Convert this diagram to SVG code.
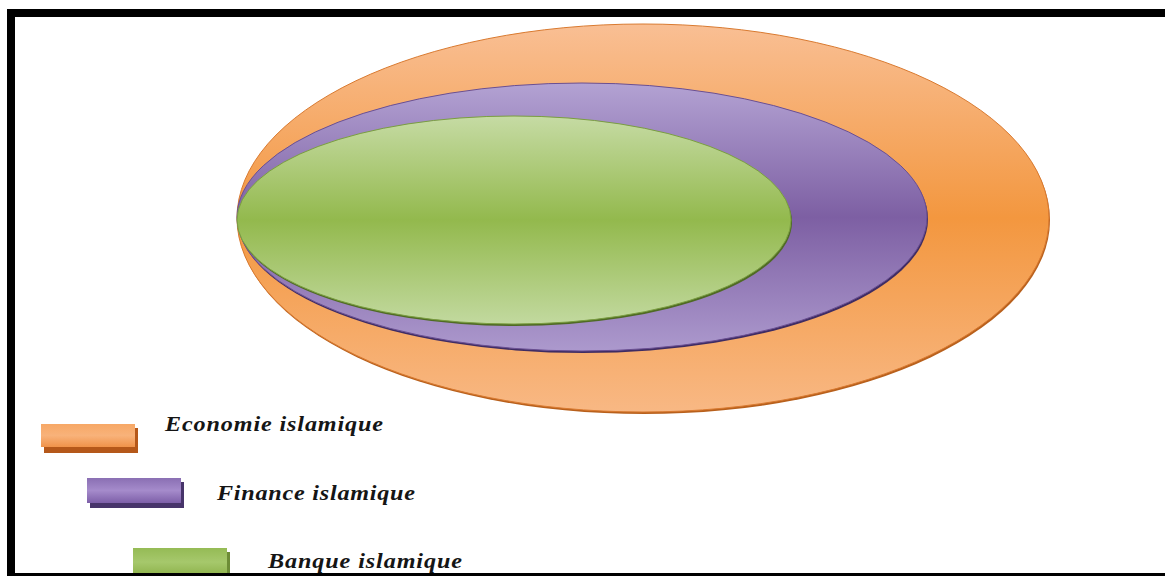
<svg xmlns="http://www.w3.org/2000/svg" width="1165" height="576" viewBox="0 0 1165 576">
  <style>
    .lbl { font-family: "Liberation Serif", "Times New Roman", serif; font-style: italic; font-weight: bold; font-size: 21px; fill: #151515; }
  </style>
  <defs>
    <linearGradient id="gOrange" x1="0" y1="0" x2="0" y2="1">
      <stop offset="0" stop-color="#f9bf94"/>
      <stop offset="0.5" stop-color="#f3973f"/>
      <stop offset="1" stop-color="#f8b884"/>
    </linearGradient>
    <linearGradient id="gPurple" x1="0" y1="0" x2="0" y2="1">
      <stop offset="0" stop-color="#b3a2d3"/>
      <stop offset="0.5" stop-color="#7d5fa3"/>
      <stop offset="1" stop-color="#ac99cd"/>
    </linearGradient>
    <linearGradient id="gGreen" x1="0" y1="0" x2="0" y2="1">
      <stop offset="0" stop-color="#c6dba4"/>
      <stop offset="0.5" stop-color="#93b94d"/>
      <stop offset="1" stop-color="#c2d99f"/>
    </linearGradient>
    <linearGradient id="lOrange" x1="0" y1="0" x2="0" y2="1">
      <stop offset="0" stop-color="#f7a866"/>
      <stop offset="0.5" stop-color="#f8b27a"/>
      <stop offset="1" stop-color="#f0934a"/>
    </linearGradient>
    <linearGradient id="lPurple" x1="0" y1="0" x2="0" y2="1">
      <stop offset="0" stop-color="#8a6fb3"/>
      <stop offset="0.5" stop-color="#a58bcb"/>
      <stop offset="1" stop-color="#7d5fa8"/>
    </linearGradient>
    <linearGradient id="lGreen" x1="0" y1="0" x2="0" y2="1">
      <stop offset="0" stop-color="#95bb55"/>
      <stop offset="0.5" stop-color="#a6c86c"/>
      <stop offset="1" stop-color="#8db24a"/>
    </linearGradient>
  </defs>

  <rect x="0" y="0" width="1165" height="576" fill="#ffffff"/>

  <g id="economie">
    <ellipse cx="644" cy="220" rx="406" ry="194" fill="#b8601c"/>
    <ellipse cx="643" cy="218" rx="406" ry="194" fill="url(#gOrange)" stroke="#d97a30" stroke-width="1"/>
  </g>
  <g id="finance">
    <ellipse cx="583" cy="219" rx="345" ry="134" fill="#3f2c63"/>
    <ellipse cx="582" cy="217" rx="345" ry="134" fill="url(#gPurple)" stroke="#6a4f92" stroke-width="1"/>
  </g>
  <g id="banque">
    <ellipse cx="515" cy="222" rx="277" ry="104" fill="#4f6a24"/>
    <ellipse cx="514" cy="220" rx="277" ry="104" fill="url(#gGreen)" stroke="#7a9e40" stroke-width="1"/>
  </g>

  <g id="legend-economie">
    <rect x="44" y="428" width="94" height="25" fill="#b5581a"/>
    <rect x="41" y="424" width="94" height="23" fill="url(#lOrange)"/>
    <text class="lbl" transform="translate(165,431) scale(1.15,1)" x="0" y="0" textLength="189.6" lengthAdjust="spacing">Economie islamique</text>
  </g>
  <g id="legend-finance">
    <rect x="90" y="482" width="94" height="26" fill="#47346a"/>
    <rect x="87" y="478" width="94" height="25" fill="url(#lPurple)"/>
    <text class="lbl" transform="translate(217,500) scale(1.15,1)" x="0" y="0" textLength="172.2" lengthAdjust="spacing">Finance islamique</text>
  </g>
  <g id="legend-banque">
    <rect x="136" y="552" width="94" height="24" fill="#6d8c36"/>
    <rect x="133" y="548" width="94" height="28" fill="url(#lGreen)"/>
    <text class="lbl" transform="translate(268,568) scale(1.15,1)" x="0" y="0" textLength="168.7" lengthAdjust="spacing">Banque islamique</text>
  </g>

  <g id="frame" fill="#000">
    <rect x="7" y="9" width="1158" height="8"/>
    <rect x="7" y="9" width="8" height="567"/>
    <rect x="7" y="573" width="1158" height="3"/>
  </g>
</svg>
